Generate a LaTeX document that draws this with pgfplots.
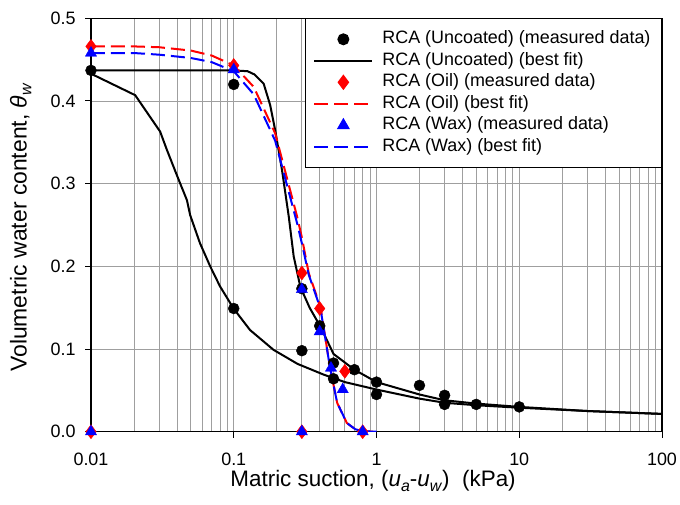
\documentclass[border=0pt]{standalone}
\usepackage{fontspec}
\setmainfont{Liberation Sans}
\usepackage{pgfplots}
\pgfplotsset{compat=1.18}
\newcommand\sub[1]{\raisebox{-0.4ex}{\fontsize{16}{16}\selectfont\textit{#1}}}
\pgfplotsset{
  markleg/.style={legend image code/.code={\draw[##1] plot coordinates {(29bp,0bp)};}},
  lineleg/.style={legend image code/.code={\draw[##1] (0bp,0bp) -- (58bp,0bp);}},
}
\begin{document}
\begin{tikzpicture}
\path[use as bounding box] (-91bp,-73.3bp) rectangle (589bp,413.4bp+18.3bp);
\begin{axis}[
  scale only axis, width=571bp, height=413.4bp,
  xmode=log, xmin=0.01, xmax=100, ymin=0, ymax=0.5,
  xtick={0.01,0.1,1,10,100}, xticklabels={0.01,0.1,1,10,100},
  minor xtick={0.02,0.03,0.04,0.05,0.06,0.07,0.08,0.09,0.2,0.3,0.4,0.5,0.6,0.7,0.8,0.9,2,3,4,5,6,7,8,9,20,30,40,50,60,70,80,90},
  ytick={0,0.1,0.2,0.3,0.4,0.5},
  yticklabel style={/pgf/number format/fixed, /pgf/number format/fixed zerofill,
    /pgf/number format/precision=1, /pgf/number format/assume math mode=true},
  ticklabel style={font=\fontsize{18}{21}\selectfont},
  xticklabel style={anchor=base, yshift=-27.5bp, inner sep=1bp},
  yticklabel style={xshift=-6bp},
  tick pos=left, tick align=outside, major tick length=6bp, minor tick length=0bp,
  tick style={black, line width=1bp},
  axis line style={black, line width=1.2bp},
  xmajorgrids, xminorgrids, ymajorgrids,
  major grid style={gray!75, line width=0.8bp},
  minor grid style={gray!75, line width=0.8bp},
  xlabel={Matric suction, (\textit{u}\sub{a}-\textit{u}\sub{w})\ \ (kPa)},
  ylabel={Volumetric water content, \textit{θ}\sub{w}},
  every axis x label/.style={at={(axis description cs:0.494,0)}, yshift=-55bp,
    anchor=base, inner sep=1bp, font=\fontsize{22.5}{27}\selectfont},
  every axis y label/.style={at={(axis description cs:0,0.494)}, xshift=-64.4bp,
    rotate=90, anchor=base, font=\fontsize{23}{27}\selectfont},
  legend style={at={(rel axis cs:1,1)}, anchor=north east, draw=black, line width=1bp,
    font=\fontsize{18}{21}\selectfont, fill=white, inner xsep=8bp, inner ysep=12bp,
    row sep=4.5bp, column sep=6bp,
    nodes={inner ysep=0bp, inner xsep=3bp, text height=13bp, text depth=4bp}},
  legend cell align=left,
]
\addplot[only marks, mark=*, mark size=5.5bp, black, markleg] coordinates {
 (0.01,0.437) (0.1,0.420) (0.1,0.149) (0.3,0.173) (0.3,0.098) (0.4,0.128)
 (0.5,0.083) (0.5,0.064) (0.7,0.075) (1,0.060) (1,0.045) (2,0.056)
 (3,0.044) (3,0.033) (5,0.033) (10,0.030)};
\addlegendentry{RCA (Uncoated) (measured data)}
\addplot[black, line width=2bp, lineleg] coordinates {
 (0.01,0.437) (0.1,0.437) (0.125,0.436) (0.14,0.432) (0.162,0.421) (0.18,0.395) (0.195,0.365)
 (0.218,0.316) (0.243,0.260) (0.263,0.212) (0.293,0.175) (0.34,0.150) (0.405,0.127)
 (0.5,0.094) (0.7,0.075) (1,0.060) (2,0.045) (3,0.038) (5,0.034) (10,0.030)
 (30,0.025) (100,0.0215)};
\addlegendentry{RCA (Uncoated) (best fit)}
\addplot[black, line width=2bp, forget plot] coordinates {
 (0.01,0.433) (0.0204,0.407) (0.0305,0.363) (0.034,0.341) (0.04,0.310) (0.047,0.280)
 (0.0495,0.262) (0.058,0.228) (0.0684,0.200) (0.08,0.176) (0.0997,0.149) (0.13,0.123)
 (0.19,0.099) (0.28,0.082) (0.427,0.069) (0.6,0.060) (1,0.051) (2,0.040) (3,0.035)
 (5,0.032) (10,0.029) (30,0.025) (100,0.0215)};
\addplot[only marks, mark=diamond*, mark size=7bp, red, markleg] coordinates {
 (0.01,0.466) (0.1,0.443) (0.3,0.192) (0.4,0.149) (0.6,0.073)
 (0.01,0) (0.3,0) (0.8,0)};
\addlegendentry{RCA (Oil) (measured data)}
\addplot[red, line width=2bp, dash pattern=on 14bp off 6bp, lineleg] coordinates {
 (0.01,0.466) (0.02,0.466) (0.03,0.465) (0.05,0.461) (0.07,0.455) (0.1,0.443)
 (0.138,0.417) (0.195,0.361) (0.278,0.260) (0.3,0.235) (0.335,0.192) (0.405,0.151)
 (0.471,0.079) (0.53,0.035) (0.62,0.0105) (0.71,0.003) (0.8,0.0005) (1,0)};
\addlegendentry{RCA (Oil) (best fit)}
\addplot[only marks, mark=triangle*, mark size=6.5bp, blue, markleg] coordinates {
 (0.01,0.458) (0.1,0.438) (0.3,0.172) (0.4,0.121) (0.48,0.077) (0.58,0.051)
 (0.01,0) (0.3,0) (0.8,0)};
\addlegendentry{RCA (Wax) (measured data)}
\addplot[blue, line width=2bp, dash pattern=on 14bp off 6bp, lineleg] coordinates {
 (0.01,0.458) (0.02,0.458) (0.03,0.456) (0.05,0.452) (0.07,0.447) (0.1,0.436)
 (0.138,0.408) (0.195,0.352) (0.278,0.252) (0.3,0.228) (0.335,0.190) (0.405,0.149)
 (0.471,0.079) (0.53,0.035) (0.62,0.0105) (0.71,0.003) (0.8,0.0005) (1,0)};
\addlegendentry{RCA (Wax) (best fit)}
\end{axis}
\end{tikzpicture}
\end{document}
